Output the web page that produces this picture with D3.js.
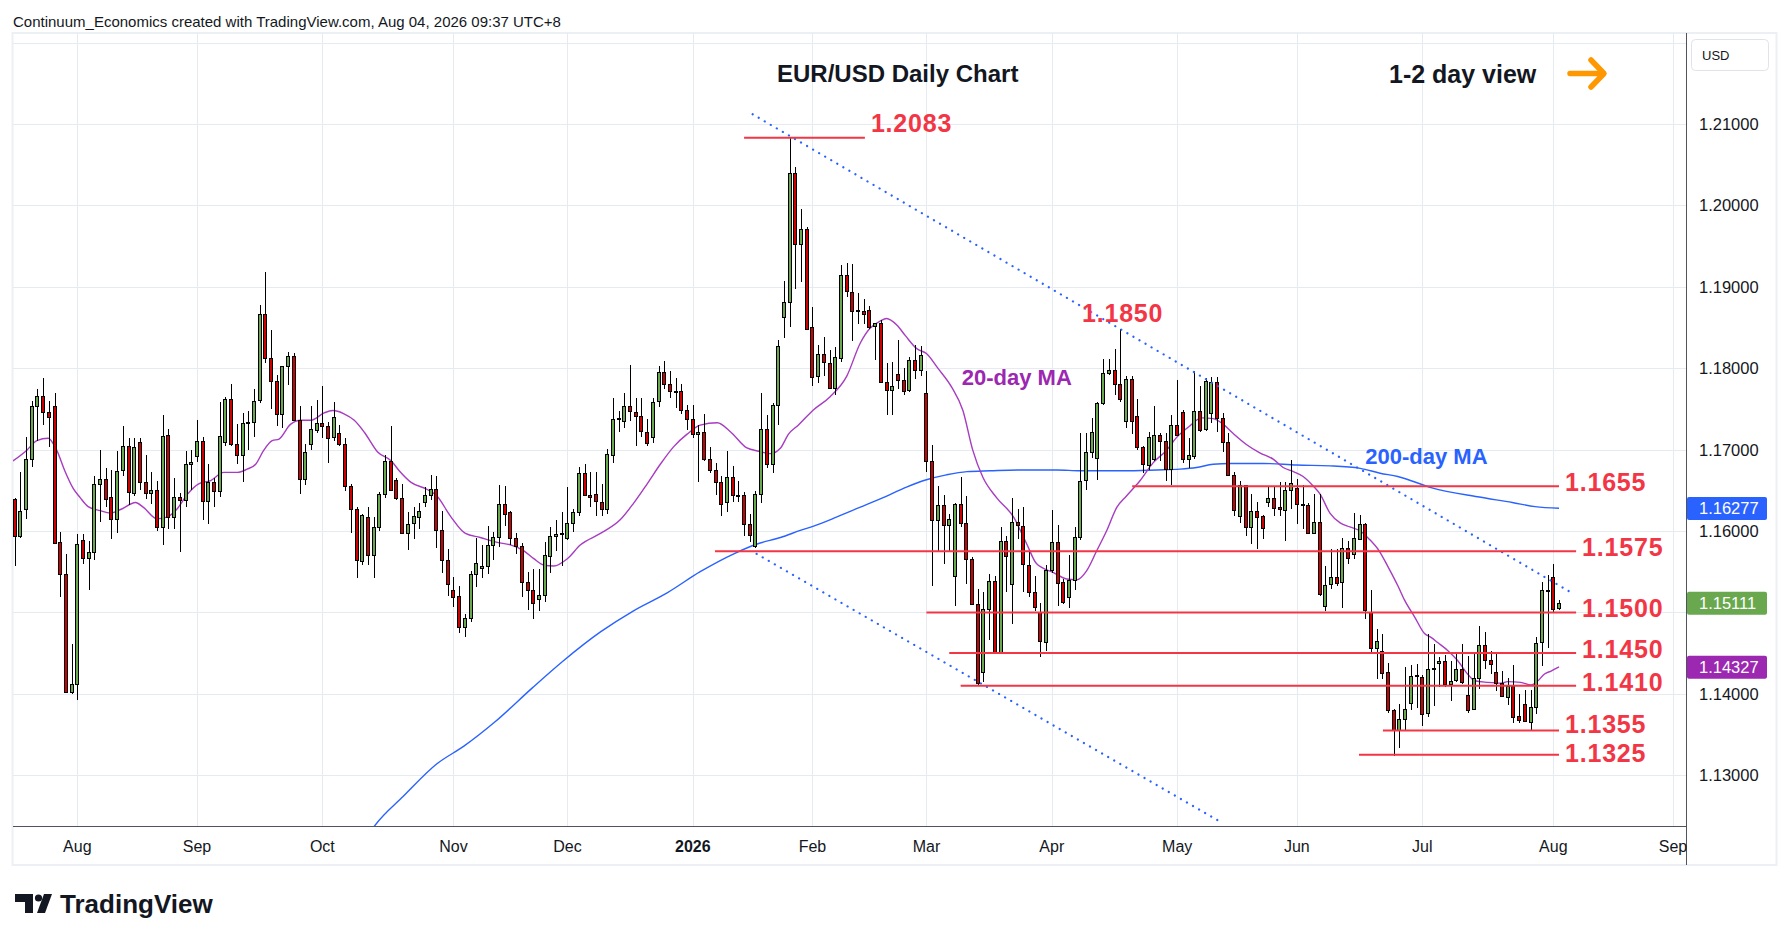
<!DOCTYPE html>
<html>
<head>
<meta charset="utf-8">
<script src="https://cdn.jsdelivr.net/npm/d3@7"></script>
<style>
  body { margin: 0; background: #fff; }
  svg { display: block; }
  text { font-family: "Liberation Sans", Arial, sans-serif; }
</style>
</head>
<body>
<div id="chart"></div>
<script>
// bar index 0 = first bar of Aug 2025, one bar per weekday
var firstIndex = -11;

// daily candles [open, high, low, close]
var candles = [
  [1.1639,1.1641,1.1557,1.1594],[1.1594,1.1672,1.1592,1.1625],[1.1627,1.1716,1.1615,1.1689],[1.1689,1.1760,1.1679,1.1754],
  [1.1754,1.1775,1.1711,1.1766],[1.1766,1.1788,1.1730,1.1746],[1.1746,1.1760,1.1703,1.1740],[1.1754,1.1770,1.1585,1.1586],
  [1.1586,1.1599,1.1519,1.1547],[1.1547,1.1572,1.1401,1.1402],[1.1402,1.1461,1.1400,1.1412],
  [1.1412,1.1596,1.1392,1.1584],[1.1589,1.1596,1.1560,1.1567],[1.1567,1.1588,1.1528,1.1574],[1.1574,1.1668,1.1564,1.1658],
  [1.1658,1.1699,1.1611,1.1664],[1.1664,1.1678,1.1629,1.1639],[1.1642,1.1675,1.1590,1.1615],[1.1615,1.1698,1.1598,1.1674],
  [1.1674,1.1729,1.1668,1.1704],[1.1704,1.1714,1.1632,1.1647],[1.1647,1.1714,1.1643,1.1703],[1.1709,1.1714,1.1650,1.1660],
  [1.1660,1.1693,1.1639,1.1646],[1.1646,1.1673,1.1633,1.1650],[1.1650,1.1662,1.1600,1.1605],[1.1605,1.1743,1.1583,1.1717],
  [1.1718,1.1725,1.1602,1.1617],[1.1617,1.1665,1.1602,1.1642],[1.1642,1.1647,1.1574,1.1638],[1.1638,1.1698,1.1629,1.1682],
  [1.1683,1.1699,1.1650,1.1685],[1.1692,1.1736,1.1685,1.1711],[1.1711,1.1715,1.1614,1.1637],[1.1637,1.1682,1.1608,1.1660],
  [1.1660,1.1665,1.1630,1.1649],[1.1649,1.1759,1.1642,1.1717],[1.1709,1.1765,1.1704,1.1762],[1.1762,1.1780,1.1704,1.1707],
  [1.1707,1.1731,1.1682,1.1694],[1.1694,1.1745,1.1660,1.1733],[1.1733,1.1748,1.1700,1.1734],[1.1734,1.1774,1.1716,1.1760],
  [1.1760,1.1878,1.1757,1.1866],[1.1866,1.1918,1.1807,1.1812],[1.1812,1.1847,1.1750,1.1784],[1.1784,1.1792,1.1729,1.1744],
  [1.1744,1.1803,1.1726,1.1803],[1.1803,1.1820,1.1779,1.1815],[1.1815,1.1819,1.1735,1.1736],[1.1736,1.1754,1.1645,1.1664],
  [1.1664,1.1707,1.1657,1.1697],[1.1706,1.1754,1.1699,1.1725],[1.1725,1.1761,1.1720,1.1733],[1.1733,1.1778,1.1714,1.1729],
  [1.1729,1.1734,1.1684,1.1714],[1.1715,1.1758,1.1711,1.1740],[1.1720,1.1730,1.1705,1.1707],[1.1707,1.1714,1.1649,1.1655],
  [1.1655,1.1658,1.1598,1.1627],[1.1627,1.1629,1.1542,1.1564],[1.1564,1.1621,1.1558,1.1620],[1.1617,1.1630,1.1558,1.1570],
  [1.1570,1.1617,1.1542,1.1605],[1.1605,1.1648,1.1600,1.1646],[1.1646,1.1693,1.1641,1.1686],[1.1686,1.1729,1.1649,1.1650],
  [1.1663,1.1665,1.1638,1.1641],[1.1641,1.1658,1.1597,1.1598],[1.1598,1.1623,1.1577,1.1609],[1.1610,1.1629,1.1590,1.1618],
  [1.1618,1.1634,1.1603,1.1625],[1.1636,1.1654,1.1629,1.1644],[1.1644,1.1669,1.1638,1.1651],[1.1651,1.1667,1.1579,1.1601],
  [1.1601,1.1625,1.1548,1.1564],[1.1564,1.1578,1.1520,1.1534],[1.1528,1.1543,1.1507,1.1520],[1.1520,1.1533,1.1475,1.1482],
  [1.1482,1.1498,1.1470,1.1493],[1.1493,1.1551,1.1488,1.1547],[1.1547,1.1591,1.1531,1.1561],[1.1554,1.1583,1.1542,1.1557],
  [1.1557,1.1606,1.1547,1.1583],[1.1583,1.1599,1.1564,1.1593],[1.1593,1.1656,1.1580,1.1633],[1.1633,1.1655,1.1606,1.1621],
  [1.1623,1.1625,1.1583,1.1591],[1.1591,1.1597,1.1572,1.1581],[1.1581,1.1585,1.1519,1.1537],[1.1537,1.1550,1.1503,1.1527],
  [1.1527,1.1553,1.1492,1.1511],[1.1516,1.1553,1.1502,1.1521],[1.1521,1.1586,1.1513,1.1570],[1.1570,1.1605,1.1548,1.1594],
  [1.1594,1.1613,1.1575,1.1596],[1.1596,1.1623,1.1557,1.1597],[1.1591,1.1654,1.1589,1.1610],[1.1610,1.1627,1.1599,1.1623],
  [1.1623,1.1679,1.1618,1.1671],[1.1671,1.1682,1.1643,1.1644],[1.1644,1.1672,1.1629,1.1642],[1.1645,1.1672,1.1618,1.1636],
  [1.1636,1.1658,1.1618,1.1627],[1.1627,1.1701,1.1621,1.1694],[1.1694,1.1763,1.1683,1.1738],[1.1738,1.1748,1.1722,1.1739],
  [1.1735,1.1770,1.1726,1.1753],[1.1753,1.1804,1.1735,1.1747],[1.1746,1.1763,1.1704,1.1741],[1.1741,1.1763,1.1715,1.1722],
  [1.1722,1.1737,1.1704,1.1708],[1.1716,1.1763,1.1708,1.1759],[1.1759,1.1803,1.1752,1.1795],[1.1795,1.1809,1.1774,1.1780],
  [1.1780,1.1796,1.1763,1.1771],[1.1771,1.1788,1.1751,1.1772],[1.1772,1.1781,1.1744,1.1749],[1.1749,1.1755,1.1724,1.1738],
  [1.1738,1.1755,1.1714,1.1719],[1.1720,1.1730,1.1660,1.1722],[1.1722,1.1744,1.1686,1.1689],[1.1689,1.1703,1.1671,1.1675],
  [1.1675,1.1684,1.1644,1.1660],[1.1660,1.1667,1.1618,1.1633],[1.1635,1.1698,1.1623,1.1666],[1.1666,1.1680,1.1636,1.1644],
  [1.1644,1.1662,1.1636,1.1643],[1.1644,1.1648,1.1594,1.1608],[1.1608,1.1621,1.1586,1.1595],[1.1581,1.1649,1.1579,1.1645],
  [1.1645,1.1769,1.1634,1.1725],[1.1725,1.1743,1.1677,1.1682],[1.1682,1.1757,1.1671,1.1755],[1.1755,1.1835,1.1730,1.1827],
  [1.1862,1.1907,1.1837,1.1881],[1.1881,1.2083,1.1851,1.2040],[1.2040,1.2047,1.1897,1.1953],[1.1953,1.1996,1.1906,1.1971],
  [1.1971,1.1974,1.1847,1.1848],[1.1851,1.1875,1.1778,1.1790],[1.1790,1.1829,1.1782,1.1817],[1.1817,1.1838,1.1790,1.1807],
  [1.1807,1.1822,1.1776,1.1776],[1.1776,1.1826,1.1767,1.1814],[1.1812,1.1927,1.1808,1.1914],[1.1914,1.1929,1.1888,1.1894],
  [1.1894,1.1928,1.1834,1.1871],[1.1871,1.1892,1.1854,1.1871],[1.1870,1.1885,1.1854,1.1866],[1.1872,1.1877,1.1848,1.1851],
  [1.1851,1.1856,1.1810,1.1855],[1.1855,1.1859,1.1783,1.1783],[1.1783,1.1806,1.1743,1.1773],[1.1773,1.1808,1.1743,1.1778],
  [1.1793,1.1835,1.1775,1.1786],[1.1786,1.1800,1.1767,1.1773],[1.1773,1.1814,1.1771,1.1810],[1.1810,1.1829,1.1787,1.1798],
  [1.1798,1.1827,1.1790,1.1816],[1.1770,1.1797,1.1672,1.1686],[1.1686,1.1706,1.1532,1.1613],[1.1613,1.1655,1.1576,1.1632],
  [1.1632,1.1644,1.1560,1.1608],[1.1608,1.1621,1.1576,1.1615],[1.1545,1.1634,1.1508,1.1633],[1.1633,1.1666,1.1605,1.1610],
  [1.1610,1.1643,1.1535,1.1566],[1.1566,1.1568,1.1510,1.1511],[1.1510,1.1529,1.1410,1.1413],[1.1427,1.1525,1.1414,1.1504],
  [1.1504,1.1547,1.1466,1.1539],[1.1539,1.1545,1.1449,1.1451],[1.1451,1.1605,1.1450,1.1588],[1.1588,1.1594,1.1525,1.1570],
  [1.1535,1.1641,1.1486,1.1611],[1.1611,1.1627,1.1590,1.1607],[1.1606,1.1629,1.1525,1.1559],[1.1558,1.1576,1.1519,1.1525],
  [1.1525,1.1545,1.1502,1.1506],[1.1500,1.1511,1.1445,1.1464],[1.1464,1.1558,1.1453,1.1552],[1.1552,1.1626,1.1549,1.1587],
  [1.1587,1.1607,1.1508,1.1537],[1.1537,1.1541,1.1510,1.1513],[1.1519,1.1570,1.1506,1.1540],[1.1540,1.1605,1.1527,1.1593],
  [1.1593,1.1721,1.1589,1.1662],[1.1662,1.1721,1.1650,1.1697],[1.1697,1.1739,1.1690,1.1722],[1.1690,1.1758,1.1663,1.1757],
  [1.1757,1.1811,1.1755,1.1794],[1.1794,1.1811,1.1792,1.1798],[1.1798,1.1824,1.1767,1.1781],[1.1781,1.1848,1.1759,1.1762],
  [1.1736,1.1790,1.1727,1.1787],[1.1787,1.1790,1.1719,1.1736],[1.1741,1.1762,1.1700,1.1703],[1.1703,1.1705,1.1671,1.1682],
  [1.1682,1.1722,1.1675,1.1716],[1.1689,1.1754,1.1686,1.1718],[1.1718,1.1720,1.1686,1.1711],[1.1710,1.1720,1.1662,1.1676],
  [1.1676,1.1742,1.1656,1.1730],[1.1730,1.1785,1.1717,1.1718],[1.1746,1.1749,1.1684,1.1688],[1.1688,1.1714,1.1678,1.1693],
  [1.1693,1.1797,1.1688,1.1748],[1.1748,1.1778,1.1722,1.1725],[1.1725,1.1788,1.1723,1.1784],[1.1745,1.1789,1.1733,1.1783],
  [1.1783,1.1789,1.1722,1.1739],[1.1739,1.1745,1.1697,1.1709],[1.1709,1.1721,1.1667,1.1669],[1.1669,1.1673,1.1618,1.1626],
  [1.1618,1.1661,1.1610,1.1656],[1.1656,1.1657,1.1594,1.1605],[1.1605,1.1645,1.1584,1.1625],[1.1625,1.1636,1.1578,1.1618],
  [1.1618,1.1620,1.1590,1.1603],[1.1636,1.1654,1.1629,1.1641],[1.1641,1.1654,1.1618,1.1629],[1.1629,1.1660,1.1619,1.1626],
  [1.1626,1.1660,1.1588,1.1650],[1.1650,1.1687,1.1627,1.1659],[1.1653,1.1664,1.1608,1.1633],[1.1633,1.1657,1.1602,1.1632],
  [1.1632,1.1634,1.1597,1.1598],[1.1598,1.1646,1.1597,1.1611],[1.1611,1.1645,1.1520,1.1522],[1.1508,1.1557,1.1502,1.1534],
  [1.1535,1.1578,1.1529,1.1544],[1.1544,1.1578,1.1533,1.1537],[1.1537,1.1591,1.1505,1.1579],[1.1579,1.1588,1.1559,1.1567],
  [1.1571,1.1622,1.1566,1.1591],[1.1591,1.1620,1.1590,1.1609],[1.1609,1.1610,1.1492,1.1503],[1.1501,1.1528,1.1451,1.1457],
  [1.1457,1.1480,1.1418,1.1465],[1.1453,1.1474,1.1418,1.1426],[1.1427,1.1438,1.1377,1.1380],[1.1380,1.1381,1.1324,1.1356],
  [1.1356,1.1388,1.1333,1.1369],[1.1369,1.1433,1.1354,1.1381],[1.1389,1.1435,1.1380,1.1422],[1.1422,1.1436,1.1382,1.1423],
  [1.1421,1.1423,1.1361,1.1376],[1.1376,1.1473,1.1372,1.1430],[1.1431,1.1461,1.1385,1.1432],[1.1438,1.1445,1.1408,1.1440],
  [1.1440,1.1448,1.1408,1.1412],[1.1412,1.1440,1.1391,1.1416],[1.1416,1.1449,1.1414,1.1430],[1.1430,1.1461,1.1412,1.1414],
  [1.1399,1.1446,1.1377,1.1381],[1.1381,1.1449,1.1380,1.1419],[1.1419,1.1483,1.1406,1.1460],[1.1460,1.1476,1.1430,1.1442],
  [1.1442,1.1453,1.1424,1.1437],[1.1427,1.1449,1.1404,1.1413],[1.1413,1.1428,1.1396,1.1397],[1.1397,1.1420,1.1386,1.1410],
  [1.1410,1.1435,1.1364,1.1372],[1.1373,1.1400,1.1364,1.1368],[1.1387,1.1405,1.1365,1.1366],[1.1366,1.1405,1.1354,1.1384],
  [1.1384,1.1470,1.1375,1.1463],[1.1463,1.1537,1.1434,1.1527],[1.1527,1.1546,1.1456,1.1528],[1.1544,1.1559,1.1500,1.1505],
  [1.1505,1.1515,1.1503,1.1511]
];

// 20-day MA [bar index, value]
var ma20 = [
  [-11.3,1.1686],[-8.9,1.1699],[-7.1,1.1711],[-5.1,1.1714],[-3.6,1.1699],[-2.2,1.1674],[-0.7,1.1652],[0.5,1.1641],
  [1.9,1.1630],[4,1.1625],[5.8,1.1622],[7.8,1.1627],[10.2,1.1635],[11.6,1.1629],[14,1.1615],[15.7,1.1617],
  [17.5,1.1627],[19.3,1.1645],[21.3,1.1658],[23.4,1.1662],[25.7,1.1672],[28.1,1.1672],[29.8,1.1676],[31.3,1.1682],
  [32.7,1.1699],[34.2,1.1711],[35.4,1.1713],[37.4,1.1731],[39.2,1.1736],[41,1.1736],[43.3,1.1745],[44.8,1.1748],
  [46.8,1.1744],[48.6,1.1736],[50.4,1.1721],[52.7,1.1697],[55.1,1.1686],[56.6,1.1673],[58.5,1.1660],[61.4,1.1651],
  [63.1,1.1643],[65.5,1.1618],[68.1,1.1597],[70.7,1.1592],[73.7,1.1586],[76,1.1583],[78.3,1.1576],[80.1,1.1566],
  [81.9,1.1558],[83.6,1.1557],[86,1.1566],[88.3,1.1583],[91.8,1.1597],[95.3,1.1614],[97.6,1.1634],[100,1.1658],
  [102.3,1.1682],[104.7,1.1704],[107,1.1719],[109.3,1.1730],[112.3,1.1733],[114.6,1.1722],[117.5,1.1702],[119.6,1.1698],
  [121.6,1.1695],[123.4,1.1702],[124.8,1.1719],[126.5,1.1730],[129.2,1.1749],[132.1,1.1765],[135,1.1790],[137.4,1.1831],
  [139.1,1.1849],[140.9,1.1858],[142,1.1861],[143.8,1.1853],[145.3,1.1840],[147.3,1.1824],[149,1.1818],[151,1.1800],
  [153.4,1.1777],[155.4,1.1748],[157.1,1.1700],[158.9,1.1666],[161.3,1.1641],[164.3,1.1617],[166.6,1.1584],[168.3,1.1560],
  [171.3,1.1549],[173.6,1.1541],[175.4,1.1540],[177.1,1.1551],[178.9,1.1576],[180.6,1.1600],[182.4,1.1629],[184.1,1.1643],
  [186.5,1.1662],[188.8,1.1684],[191.1,1.1699],[192.9,1.1715],[195.2,1.1729],[197.3,1.1739],[199.3,1.1738],[201.1,1.1731],
  [202.8,1.1720],[205.2,1.1706],[207.5,1.1696],[209.9,1.1688],[211.6,1.1678],[213.4,1.1673],[215.1,1.1667],[216.9,1.1655],
  [218.1,1.1645],[219.8,1.1622],[221.6,1.1610],[223.3,1.1605],[225.1,1.1600],[226.7,1.1590],[228.4,1.1576],[230,1.1556],
  [231.7,1.1533],[232.9,1.1515],[234.7,1.1494],[236.4,1.1474],[237.6,1.1469],[238.7,1.1463],[240.5,1.1453],[242.2,1.1441],
  [244,1.1424],[245.2,1.1416],[247.5,1.1414],[249.8,1.1413],[251,1.1415],[253.3,1.1414],[255.1,1.1411],[256.3,1.1416],
  [257.4,1.1424],[258.6,1.1428],[260,1.1433]
];

// 200-day MA [bar index, value]
var ma200 = [
  [50,1.1215],[52.2,1.1238],[57.2,1.1274],[63.1,1.1314],[67.9,1.1336],[73.2,1.1365],[79.8,1.1407],[85.2,1.1440],
  [91.8,1.1476],[97.6,1.1502],[103.5,1.1524],[109.3,1.1550],[115.2,1.1572],[119.3,1.1584],[123.4,1.1592],[127,1.1601],
  [129.2,1.1606],[133.2,1.1617],[137.3,1.1629],[141.4,1.1641],[145.5,1.1654],[149,1.1663],[152.5,1.1669],[156.1,1.1673],
  [160.2,1.1674],[166,1.1675],[171.9,1.1675],[176,1.1674],[183.5,1.1674],[189.4,1.1675],[193.5,1.1676],[196.4,1.1678],
  [199.3,1.1682],[202.3,1.1683],[208.1,1.1683],[214,1.1681],[219.8,1.1680],[225.1,1.1677],[228.6,1.1671],[231.7,1.1667],
  [237.7,1.1653],[245.7,1.1642],[251.8,1.1635],[255.8,1.1630],[260,1.1628]
];

// dotted channel lines [bar index, price]
var upperTrend = [[118.5,1.2112],[262,1.1525]];
var lowerTrend = [[119.2,1.1572],[201,1.1241]];

// horizontal levels [price, from bar, to bar]
var levelLines = [
  [1.2083,117.0,138.2],[1.1655,185.1,260],[1.1575,111.9,263],[1.1500,149,263],
  [1.1450,153,263],[1.1410,155,263],[1.1355,229.1,260],[1.1325,224.9,260]
];
var peakLabels = [[1.1850,176.3]];

// month labels on the time axis [label, bar index]
var monthTicks = [
  ["Aug",0],["Sep",21],["Oct",43],["Nov",66],["Dec",86],["2026",108],["Feb",129],
  ["Mar",149],["Apr",171],["May",193],["Jun",214],["Jul",236],["Aug",259],["Sep",280]
];
var priceTicks = [1.13,1.14,1.15,1.16,1.17,1.18,1.19,1.20,1.21];
var gridPrices = [1.13,1.14,1.15,1.16,1.17,1.18,1.19,1.20,1.21,1.22];

// last-value tags: 200-day MA, close, 20-day MA
var tagValues = [1.16277,1.15111,1.14327];
var tagColors = ["#2962ff","#6aa84f","#9c27b0"];

var W = 1789, H = 941;
var plot = {left: 13, top: 33, right: 1686, bottom: 826};

var x = d3.scaleLinear().domain([0, 280]).range([77.3, 1673]);
var y = d3.scaleLinear().domain([1.13, 1.21]).range([775.2, 124]);

var svg = d3.select("#chart").append("svg")
    .attr("width", W).attr("height", H);

svg.append("rect").attr("width", W).attr("height", H).attr("fill", "#fff");

// header line
svg.append("text")
    .attr("x", 13).attr("y", 21)
    .attr("dominant-baseline", "central")
    .style("font-size", "15px").style("fill", "#131722")
    .text("Continuum_Economics created with TradingView.com, Aug 04, 2026 09:37 UTC+8");

// outer frame
svg.append("rect")
    .attr("x", 12.5).attr("y", 33).attr("width", 1764).attr("height", 832)
    .attr("fill", "none").attr("stroke", "#eceff4").attr("stroke-width", 2);

svg.append("defs").append("clipPath").attr("id", "plotclip")
  .append("rect")
    .attr("x", plot.left).attr("y", plot.top)
    .attr("width", plot.right - plot.left).attr("height", plot.bottom - plot.top);

// grid
var grid = svg.append("g").attr("shape-rendering", "crispEdges");
grid.selectAll(".hg").data(gridPrices).enter().append("line")
    .attr("x1", plot.left).attr("x2", plot.right)
    .attr("y1", d => Math.round(y(d)) + 0.5).attr("y2", d => Math.round(y(d)) + 0.5)
    .attr("stroke", "#e6ebf1");
grid.selectAll(".vg").data(monthTicks).enter().append("line")
    .attr("x1", d => Math.round(x(d[1])) + 0.5).attr("x2", d => Math.round(x(d[1])) + 0.5)
    .attr("y1", plot.top).attr("y2", plot.bottom)
    .attr("stroke", "#e6ebf1");

var chart = svg.append("g").attr("clip-path", "url(#plotclip)");

// moving averages
var maLine = d3.line()
    .x(d => x(d[0])).y(d => y(d[1]))
    .curve(d3.curveMonotoneX);

chart.append("path").datum(ma200)
    .attr("d", maLine)
    .attr("fill", "none").attr("stroke", "#2962ff").attr("stroke-width", 1.4);

chart.append("path").datum(ma20)
    .attr("d", maLine)
    .attr("fill", "none").attr("stroke", "#a73cc0").attr("stroke-width", 1.4);

// candles
var bars = candles.map(function(c, k) {
  return {i: firstIndex + k, o: c[0], h: c[1], l: c[2], c: c[3]};
});

var cg = chart.append("g").attr("shape-rendering", "crispEdges");
var candle = cg.selectAll("g.candle").data(bars).enter().append("g");

candle.append("line")
    .attr("x1", d => Math.round(x(d.i)) + 0.5).attr("x2", d => Math.round(x(d.i)) + 0.5)
    .attr("y1", d => Math.round(y(d.h))).attr("y2", d => Math.round(y(d.l)))
    .attr("stroke", "#000").attr("stroke-width", 1);

candle.append("rect")
    .attr("x", d => Math.round(x(d.i)) - 1.5)
    .attr("y", d => Math.round(y(Math.max(d.o, d.c))) + 0.5)
    .attr("width", 3)
    .attr("height", d => Math.max(1, Math.round(Math.abs(y(d.o) - y(d.c)))))
    .attr("fill", d => d.c >= d.o ? "#6aa84f" : "#cc0000")
    .attr("stroke", "#000").attr("stroke-width", 1);

// dotted channel
var straight = d3.line().x(d => x(d[0])).y(d => y(d[1]));
[upperTrend, lowerTrend].forEach(function(t) {
  chart.append("path").datum(t)
      .attr("d", straight)
      .attr("fill", "none").attr("stroke", "#2962ff")
      .attr("stroke-width", 2.2).attr("stroke-linecap", "round")
      .attr("stroke-dasharray", "0.1 6.9");
});

// level lines and labels
var red = "#f23645";
var lv = svg.append("g");
lv.selectAll("line").data(levelLines).enter().append("line")
    .attr("x1", d => x(d[1])).attr("x2", d => x(d[2]))
    .attr("y1", d => y(d[0])).attr("y2", d => y(d[0]))
    .attr("stroke", red).attr("stroke-width", 2);

// label centres sit just above their line; push apart any two that crowd each other
var labelY = levelLines.map(d => y(d[0]) - (d[0] > 1.2 ? 15 : 4));
for (var k = 1; k < labelY.length; k++) {
  var gap = labelY[k] - labelY[k - 1];
  if (gap > 0 && gap < 29) {
    var push = (29 - gap) / 2;
    labelY[k - 1] -= push;
    labelY[k] += push;
  }
}

lv.selectAll("text.lvl").data(levelLines).enter().append("text")
    .attr("x", d => x(d[2]) + 6)
    .attr("y", (d, k) => labelY[k])
    .attr("dominant-baseline", "central")
    .style("font-size", "25px").style("font-weight", "bold").style("fill", red)
    .style("letter-spacing", "0.8px")
    .text(d => d3.format(".4f")(d[0]));

lv.selectAll("text.peak").data(peakLabels).enter().append("text")
    .attr("x", d => x(d[1]))
    .attr("y", d => y(d[0]) - 15)
    .attr("dominant-baseline", "central")
    .style("font-size", "25px").style("font-weight", "bold").style("fill", red)
    .style("letter-spacing", "0.8px")
    .text(d => d3.format(".4f")(d[0]));

// MA captions
svg.append("text")
    .attr("x", x(155.2)).attr("y", y(1.1788))
    .attr("dominant-baseline", "central")
    .style("font-size", "22px").style("font-weight", "bold").style("fill", "#9c27b0")
    .text("20-day MA");
svg.append("text")
    .attr("x", x(226)).attr("y", y(1.1691))
    .attr("dominant-baseline", "central")
    .style("font-size", "22px").style("font-weight", "bold").style("fill", "#2962ff")
    .text("200-day MA");

// titles
svg.append("text")
    .attr("x", 777).attr("y", 73)
    .attr("dominant-baseline", "central")
    .style("font-size", "24px").style("font-weight", "bold").style("fill", "#131722")
    .text("EUR/USD Daily Chart");
svg.append("text")
    .attr("x", 1389).attr("y", 74)
    .attr("dominant-baseline", "central")
    .style("font-size", "25px").style("font-weight", "bold").style("fill", "#131722")
    .text("1-2 day view");

// orange arrow
svg.append("path")
    .attr("d", "M1570,73.5 H1602 M1591,60 L1604,73.5 L1591,87")
    .attr("fill", "none").attr("stroke", "#ff9800")
    .attr("stroke-width", 5.5).attr("stroke-linecap", "round").attr("stroke-linejoin", "round");

// axes lines
var axes = svg.append("g").attr("shape-rendering", "crispEdges");
axes.append("line")
    .attr("x1", plot.left).attr("x2", plot.right)
    .attr("y1", plot.bottom + 0.5).attr("y2", plot.bottom + 0.5)
    .attr("stroke", "#50535e");
axes.append("line")
    .attr("x1", plot.right + 0.5).attr("x2", plot.right + 0.5)
    .attr("y1", plot.top).attr("y2", 865)
    .attr("stroke", "#50535e");

// time labels
svg.selectAll("text.month").data(monthTicks).enter().append("text")
    .attr("x", d => x(d[1])).attr("y", 846)
    .attr("text-anchor", "middle").attr("dominant-baseline", "central")
    .style("font-size", "16px").style("fill", "#131722")
    .style("font-weight", d => d[0] === "2026" ? "bold" : "normal")
    .text(d => d[0]);

// price labels (a label covered by a last-value tag is left to the tag)
var freeTicks = priceTicks.filter(p => tagValues.every(v => Math.abs(y(p) - y(v)) > 16));
svg.selectAll("text.price").data(freeTicks).enter().append("text")
    .attr("x", 1699).attr("y", d => y(d))
    .attr("dominant-baseline", "central")
    .style("font-size", "16.5px").style("fill", "#131722")
    .text(d => d3.format(".5f")(d));

// last value tags
var tags = svg.selectAll("g.tag").data(tagValues).enter().append("g");
tags.append("rect")
    .attr("x", 1687).attr("y", d => y(d) - 11.5)
    .attr("width", 80).attr("height", 23).attr("rx", 2)
    .attr("fill", (d, k) => tagColors[k]);
tags.append("text")
    .attr("x", 1699).attr("y", d => y(d))
    .attr("dominant-baseline", "central")
    .style("font-size", "16.5px").style("fill", "#fff")
    .text(d => d3.format(".5f")(d));

// currency box
svg.append("rect")
    .attr("x", 1691.5).attr("y", 39.5).attr("width", 77).attr("height", 31).attr("rx", 4)
    .attr("fill", "#fff").attr("stroke", "#e0e3eb");
svg.append("text")
    .attr("x", 1702).attr("y", 55)
    .attr("dominant-baseline", "central")
    .style("font-size", "13px").style("fill", "#131722")
    .text("USD");

// TradingView logo
var logo = svg.append("g").attr("fill", "#131722");
logo.append("path").attr("d", "M15,894 H33 V913 H25 V902 H15 Z");
logo.append("circle").attr("cx", 38.5).attr("cy", 898).attr("r", 3.6);
logo.append("path").attr("d", "M44,894 H52 L45,913 H37 Z");
logo.append("text")
    .attr("x", 60).attr("y", 904)
    .attr("dominant-baseline", "central")
    .style("font-size", "26px").style("font-weight", "bold")
    .text("TradingView");
</script>
</body>
</html>
